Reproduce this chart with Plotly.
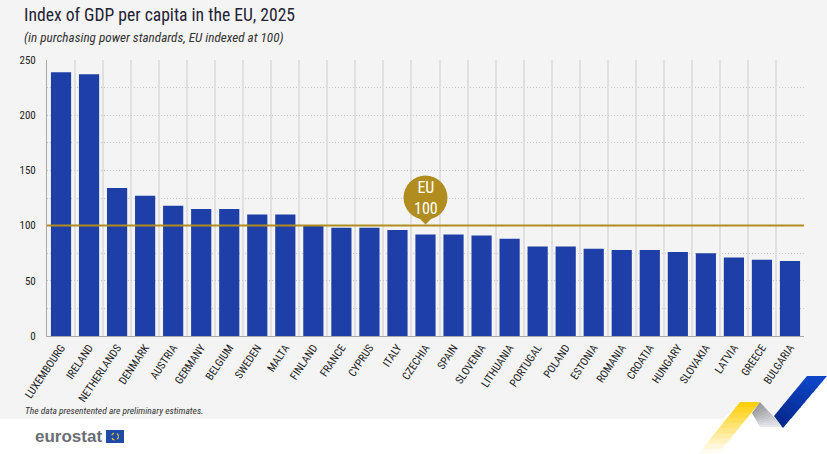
import plotly.graph_objects as go

W = 827
H = 454

countries = ["LUXEMBOURG", "IRELAND", "NETHERLANDS", "DENMARK", "AUSTRIA", "GERMANY", "BELGIUM",
             "SWEDEN", "MALTA", "FINLAND", "FRANCE", "CYPRUS", "ITALY", "CZECHIA", "SPAIN",
             "SLOVENIA", "LITHUANIA", "PORTUGAL", "POLAND", "ESTONIA", "ROMANIA", "CROATIA",
             "HUNGARY", "SLOVAKIA", "LATVIA", "GREECE", "BULGARIA"]
gdp_index = [239, 237, 134, 127, 118, 115, 115, 110, 110, 100, 98, 98, 96, 92, 92, 91, 88,
             81, 81, 79, 78, 78, 76, 75, 71, 69, 68]
eu_level = 100
y_ticks = [0, 50, 100, 150, 200, 250]

NARROW = "Roboto Condensed, Open Sans Condensed, DejaVu Sans Condensed"
BLUE = "#1f3fa8"
GOLD = "#b08d1e"
BG = "#f4f4f4"


def px_path(points):
    # pixel coordinates of the page -> paper coordinates
    pts = [(x / W, 1 - y / H) for x, y in points]
    return "M" + " L".join(f"{x:.5f},{y:.5f}" for x, y in pts) + " Z"


def paper_poly(points, color, layer="above"):
    return dict(type="path", xref="paper", yref="paper", path=px_path(points),
                fillcolor=color, line=dict(width=0), layer=layer)


def mix(c1, c2, t):
    return "rgb(" + ",".join(str(round(a + (b - a) * t)) for a, b in zip(c1, c2)) + ")"


def ribbon(p1, p2, p3, p4, c1, c2, steps=10):
    # no gradient fill on shapes, so the ribbon is cut in thin strips
    out = []
    for i in range(steps):
        a, b = i / steps, (i + 1.15) / steps
        b = min(b, 1)
        lerp = lambda s, e, t: (s[0] + (e[0] - s[0]) * t, s[1] + (e[1] - s[1]) * t)
        out.append(paper_poly([lerp(p1, p4, a), lerp(p2, p3, a), lerp(p2, p3, b), lerp(p1, p4, b)],
                              mix(c1, c2, (i + 0.5) / steps)))
    return out


fig = go.Figure()
fig.add_trace(go.Bar(x=countries, y=gdp_index, width=0.72, marker=dict(color=BLUE, line=dict(width=0))))

shapes = [
    paper_poly([(0, 0), (W, 0), (W, 376), (807, 376), (774, 416), (760, 402), (740, 402),
                (723, 419), (0, 419)], BG, "below"),
    dict(type="rect", xref="paper", yref="paper", x0=106 / W, x1=124 / W, y0=1 - 443 / H, y1=1 - 430 / H,
         fillcolor="#1f4aa8", line=dict(width=0)),
    dict(type="circle", xref="paper", yref="paper", x0=111.5 / W, x1=118.5 / W, y0=1 - 440 / H, y1=1 - 433 / H,
         line=dict(color="#e8c81e", width=1.2, dash="dot")),
    # EU level line and pin
    dict(type="line", xref="paper", x0=47 / W, x1=804 / W, yref="y", y0=eu_level, y1=eu_level,
         line=dict(color=GOLD, width=2)),
    dict(type="circle", xsizemode="pixel", ysizemode="pixel", xref="x", yref="y",
         xanchor=countries[13], yanchor=eu_level, x0=-22, x1=22, y0=6, y1=50,
         fillcolor=GOLD, line=dict(width=0)),
    dict(type="path", xsizemode="pixel", ysizemode="pixel", xref="x", yref="y",
         xanchor=countries[13], yanchor=eu_level, path="M-7,8 L7,8 L0,1 Z",
         fillcolor=GOLD, line=dict(width=0)),
]
shapes += ribbon((740, 402), (760, 402), (718, 454), (698, 454), (255, 204, 0), (255, 255, 255))
shapes += ribbon((760, 402), (752, 413), (760, 427), (783, 427), (150, 150, 155), (232, 234, 238))
shapes += ribbon((807, 376), (827, 376), (783, 428), (774, 416), (14, 71, 203), (5, 40, 140))

notes = [
    dict(text="Index of GDP per capita in the EU, 2025", x=22, y=15, size=17.6, color="#1f2233"),
    dict(text="<i>(in purchasing power standards, EU indexed at 100)</i>", x=22, y=38, size=13.2, color="#333333"),
    dict(text="<i>The data presentented are preliminary estimates.</i>", x=23, y=410, size=9.5, color="#333333"),
]
annotations = [dict(text=n["text"], xref="paper", yref="paper", x=n["x"] / W, y=1 - n["y"] / H,
                    xanchor="left", yanchor="middle", showarrow=False,
                    font=dict(family=NARROW, size=n["size"], color=n["color"])) for n in notes]
annotations.append(dict(text="eurostat", xref="paper", yref="paper", x=33 / W, y=1 - 436 / H,
                        xanchor="left", yanchor="middle", showarrow=False,
                        font=dict(family="Liberation Sans", size=17, color="#6b6e76", weight="bold")))
annotations.append(dict(text="EU<br>100", x=countries[13], xref="x", y=eu_level, yref="y", yshift=28,
                        yanchor="middle", showarrow=False, align="center",
                        font=dict(family=NARROW, size=16, color="white")))

fig.update_layout(
    width=W, height=H, margin=dict(l=0, r=0, t=0, b=0), autosize=False,
    paper_bgcolor="white", plot_bgcolor="rgba(0,0,0,0)",
    showlegend=False, bargap=0.28, shapes=shapes, annotations=annotations,
    font=dict(family=NARROW, color="#222222"),
    xaxis=dict(domain=[47 / W, 804 / W], type="category", tickson="boundaries", ticks="", automargin=False,
               tickangle=-56, tickfont=dict(size=11), showgrid=True, gridcolor="#e0e0e0", gridwidth=1.5,
               showline=True, linecolor="#a8a8a8", linewidth=1),
    yaxis=dict(domain=[1 - 336 / H, 1 - 60 / H], range=[0, 250], tickvals=y_ticks, ticks="", automargin=False,
               tickfont=dict(size=11), ticklabelstandoff=8,
               minor=dict(dtick=25, showgrid=True, gridcolor="#c8c8c8", griddash="1px,2px"),
               showgrid=True, gridcolor="#c8c8c8", griddash="1px,2px", gridwidth=1, zeroline=False,
               showline=True, linecolor="#a8a8a8", linewidth=1),
)

fig.write_html("out.html", config=dict(displayModeBar=False),
               post_script="document.body.style.margin='0';")
